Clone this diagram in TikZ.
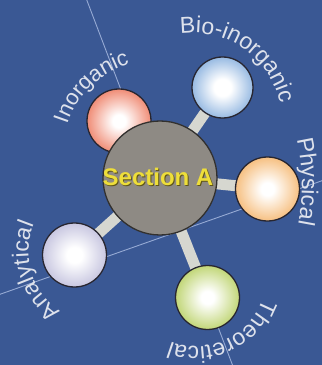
\documentclass[tikz,border=0pt]{standalone}
\usepackage{fontspec}
\setmainfont{Liberation Sans}
\usetikzlibrary{decorations.text}
\definecolor{bgblue}{RGB}{58,88,148}
\definecolor{thinline}{RGB}{150,170,212}
\definecolor{barc}{RGB}{214,215,208}
\definecolor{labelc}{RGB}{222,226,236}
\definecolor{hubfill}{RGB}{142,138,132}
\definecolor{hubline}{RGB}{50,48,46}
\definecolor{ballline}{RGB}{40,38,48}
\definecolor{secyellow}{RGB}{238,222,58}
\definecolor{secshadow}{RGB}{95,85,25}
\definecolor{cinorg}{RGB}{236,112,84}
\definecolor{cinorgD}{RGB}{210,92,66}
\definecolor{cbio}{RGB}{100,152,212}
\definecolor{cbioD}{RGB}{78,126,190}
\definecolor{cphys}{RGB}{244,176,98}
\definecolor{cphysD}{RGB}{222,148,74}
\definecolor{canal}{RGB}{174,172,210}
\definecolor{canalD}{RGB}{148,146,188}
\definecolor{ctheo}{RGB}{178,204,86}
\definecolor{ctheoD}{RGB}{148,176,58}
\pgfdeclareradialshading{shInorg}{\pgfpoint{0bp}{0bp}}{color(0bp)=(white); color(5bp)=(white); color(30bp)=(cinorg); color(50bp)=(cinorgD)}
\pgfdeclareradialshading{shBio}{\pgfpoint{0bp}{0bp}}{color(0bp)=(white); color(7bp)=(white); color(34bp)=(cbio); color(50bp)=(cbioD)}
\pgfdeclareradialshading{shPhys}{\pgfpoint{0bp}{0bp}}{color(0bp)=(white); color(5bp)=(white); color(30bp)=(cphys); color(50bp)=(cphysD)}
\pgfdeclareradialshading{shAnal}{\pgfpoint{0bp}{0bp}}{color(0bp)=(white); color(6bp)=(white); color(34bp)=(canal); color(50bp)=(canalD)}
\pgfdeclareradialshading{shTheo}{\pgfpoint{0bp}{0bp}}{color(0bp)=(white); color(5bp)=(white); color(30bp)=(ctheo); color(50bp)=(ctheoD)}
\newcommand\lblfontA{\fontsize{22}{22}\selectfont}
\newcommand\lblfontB{\fontsize{23}{23}\selectfont}
\newcommand\secfont{\fontsize{24}{24}\selectfont\bfseries}
\pgfdeclarelayer{back}
\pgfsetlayers{back,main}
\tikzset{
  ball/.style={circle, draw=ballline, line width=1.3pt, minimum size=64pt, inner sep=0pt, shade, shading=#1},
  bar/.style={line width=11pt, draw=barc},
  thin/.style={line width=0.9pt, draw=thinline},
  lblA/.style={decorate, decoration={text along path, text align=center, text color=labelc, text={|\lblfontA|#1}}},
  lblB/.style={decorate, decoration={text along path, text align=center, text color=labelc, text={|\lblfontB|#1}}},
}
\begin{document}
\begin{tikzpicture}[x=1pt,y=1pt]
\useasboundingbox (0,0) rectangle (322,365);
\clip (0,0) rectangle (322,365);
\begin{pgfonlayer}{back}
\fill[bgblue] (0,0) rectangle (322,365);
\coordinate (ta1) at (86,367);
\coordinate (ta2) at (126,262);
\coordinate (tb1) at (-2,70);
\coordinate (tb2) at (324,185);
\coordinate (tc1) at (207,67);
\coordinate (tc2) at (234,-4);
\draw[thin] (ta1) -- (ta2);
\draw[thin] (tb1) -- (tb2);
\draw[thin] (tc1) -- (tc2);
\end{pgfonlayer}
% balls
\node[ball=shInorg] (inorg) at (119,244) {};
\node[ball=shBio, minimum size=61pt] (bio) at (222.5,277.5) {};
\node[ball=shPhys] (phys) at (267.5,176) {};
\node[ball=shAnal] (anal) at (74.5,110) {};
\node[ball=shTheo] (theo) at (207.5,67.5) {};
% hub
\node[circle, draw=hubline, line width=1.3pt, fill=hubfill, minimum size=114pt, inner sep=0pt] (hub) at (160,187) {};
\node[font=\secfont, text=secshadow] (secsh) at (159,187) {Section A};
\node[font=\secfont, text=secyellow] (sec) at (158,188) {Section A};
% bars
\begin{pgfonlayer}{back}
\draw[bar] (hub.center) -- (bio.center);
\draw[bar] (hub.center) -- (phys.center);
\draw[bar] (hub.center) -- (anal.center);
\draw[bar] (hub.center) -- (theo.center);
\end{pgfonlayer}
% labels
\coordinate (cInorg) at (154,213);
\coordinate (cBio) at (193,243);
\coordinate (cPhys) at (100,180);
\coordinate (cAnal) at (99.5,113.5);
\coordinate (cTheo) at (196,89.5);
\path[lblA={Inorganic}] ([shift={(214:91pt)}]cInorg) arc[start angle=214, end angle=54, radius=91pt];
\path[lblB={Bio-inorganic}] ([shift={(140:89pt)}]cBio) arc[start angle=140, end angle=-30, radius=89pt];
\path[lblB={Physical}] ([shift={(41:202pt)}]cPhys) arc[start angle=41, end angle=-39, radius=202pt];
\path[lblB={Analytical}] ([shift={(280:71pt)}]cAnal) arc[start angle=280, end angle=114, radius=71pt];
\path[lblB={Theoretical}] ([shift={(20:71pt)}]cTheo) arc[start angle=20, end angle=-150, radius=71pt];
\end{tikzpicture}
\end{document}
